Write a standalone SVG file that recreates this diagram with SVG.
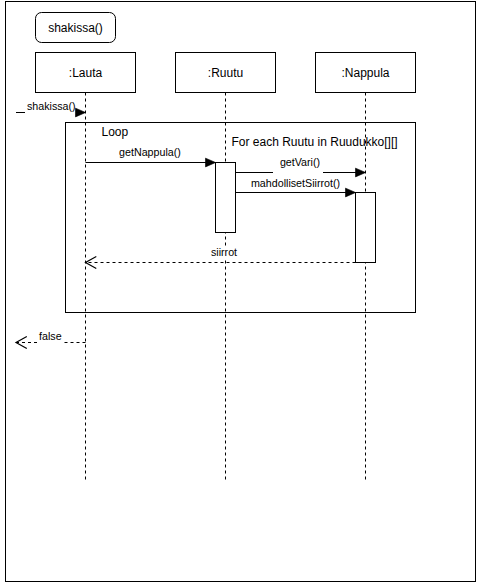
<svg xmlns="http://www.w3.org/2000/svg" width="477" height="584" viewBox="0 0 477 584">
<style>
  .box{fill:#fff;stroke:#000;stroke-width:1}
  .life{fill:none;stroke:#000;stroke-width:1;stroke-dasharray:3 3}
  .msg{fill:none;stroke:#000;stroke-width:1}
  .ret{fill:none;stroke:#000;stroke-width:1;stroke-dasharray:3 3}
  .t12{font-family:"Liberation Sans",Arial,Helvetica,sans-serif;font-size:12px;fill:#000}
  .t11{font-family:"Liberation Sans",Arial,Helvetica,sans-serif;font-size:10.7px;fill:#000;text-anchor:middle}
  .mid{text-anchor:middle}
</style>
<defs>
  <marker id="block" markerUnits="userSpaceOnUse" markerWidth="10" markerHeight="10" viewBox="0 0 8 7" refX="8" refY="3.5" orient="auto" overflow="visible">
    <path d="M0,0 L8,3.5 L0,7 Z" fill="#000" stroke="#000" stroke-width="0.5"/>
  </marker>
  <marker id="open" markerUnits="userSpaceOnUse" markerWidth="12" markerHeight="12" viewBox="0 0 9 10" refX="9" refY="5" orient="auto" overflow="visible">
    <path d="M0,0 L9,5 L0,10" fill="none" stroke="#000" stroke-width="1" stroke-dasharray="none"/>
  </marker>
</defs>
<rect x="0" y="0" width="477" height="584" fill="#fff"/>
<g id="frame">
  <rect class="box" x="5.5" y="1.5" width="470" height="580"/>
</g>
<g id="title">
  <rect class="box" x="35.5" y="12.5" width="80" height="30" rx="6" ry="6"/>
  <text class="t12 mid" x="75.5" y="31.8">shakissa()</text>
</g>
<g id="loop">
  <rect x="65.5" y="122.5" width="350" height="190" fill="none" stroke="#000" stroke-width="1"/>
  <text class="t12" x="101.5" y="136">Loop</text>
  <text class="t12" x="231.5" y="146">For each Ruutu in Ruudukko[][]</text>
</g>
<g id="lauta">
  <rect class="box" x="35.5" y="52.5" width="100" height="40"/>
  <text class="t12 mid" x="85.5" y="76.8">:Lauta</text>
  <line class="life" x1="85.5" y1="92.5" x2="85.5" y2="482"/>
</g>
<g id="ruutu">
  <rect class="box" x="175.5" y="52.5" width="100" height="40"/>
  <text class="t12 mid" x="225.5" y="76.8">:Ruutu</text>
  <line class="life" x1="225.5" y1="92.5" x2="225.5" y2="482"/>
  <rect class="box" x="215.5" y="162.5" width="20" height="70"/>
</g>
<g id="nappula">
  <rect class="box" x="315.5" y="52.5" width="100" height="40"/>
  <text class="t12 mid" x="365.5" y="76.8">:Nappula</text>
  <line class="life" x1="365.5" y1="92.5" x2="365.5" y2="482"/>
  <rect class="box" x="355.5" y="192.5" width="20" height="70"/>
</g>
<g id="connectors">
  <g id="m-shakissa">
    <path class="msg" d="M16,112.5 H25"/>
    <path class="msg" d="M77,112.5 H85.5" marker-end="url(#block)"/>
    <text class="t11" x="51.3" y="110">shakissa()</text>
  </g>
  <g id="m-getNappula">
    <path class="msg" d="M85.5,162.5 H215.5" marker-end="url(#block)"/>
    <text class="t11" x="150" y="156">getNappula()</text>
  </g>
  <g id="m-getVari">
    <path class="msg" d="M235.5,172.5 H273"/>
    <path class="msg" d="M323,172.5 H365.5" marker-end="url(#block)"/>
    <text class="t11" x="300" y="165.5">getVari()</text>
  </g>
  <g id="m-mahdolliset">
    <path class="msg" d="M235.5,192.5 H355.5" marker-end="url(#block)"/>
    <text class="t11" x="295.5" y="186.5">mahdollisetSiirrot()</text>
  </g>
  <g id="m-siirrot">
    <path class="ret" d="M355.5,262.5 H85.5" marker-end="url(#open)"/>
    <rect x="209" y="247" width="30" height="12" fill="#fff"/>
    <text class="t11" x="224" y="256">siirrot</text>
  </g>
  <g id="m-false">
    <path class="ret" d="M85.5,342.5 H63"/>
    <path class="ret" d="M37,342.5 H16" marker-end="url(#open)"/>
    <text class="t11" x="50.3" y="339.5">false</text>
  </g>
</g>
</svg>
